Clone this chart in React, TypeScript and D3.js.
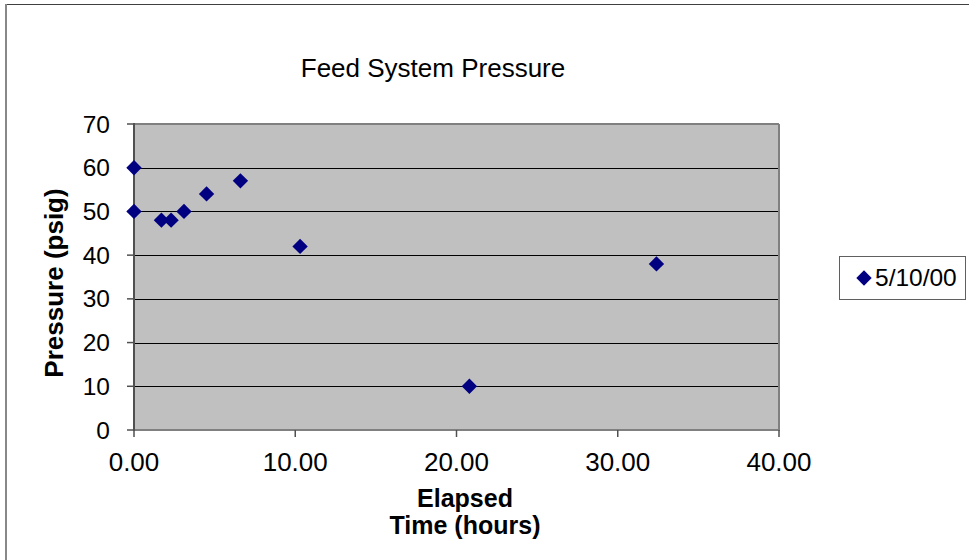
import React from "react";
import * as d3 from "d3";

const chartTitle = "Feed System Pressure";
const seriesName = "5/10/00";
const elapsedHours = [0, 0, 1.7, 2.3, 3.1, 4.5, 6.6, 10.3, 20.8, 32.4];
const pressurePsig = [60, 50, 48, 48, 50, 54, 57, 42, 10, 38];
const xTicks = [0, 10, 20, 30, 40];
const yTicks = [0, 10, 20, 30, 40, 50, 60, 70];
const xTitleLines = ["Elapsed", "Time (hours)"];
const yTitle = "Pressure (psig)";

const W = 969;
const H = 560;
const plot = { left: 134, right: 779, top: 124, bottom: 430 };
const FONT = "'Liberation Sans', Arial, sans-serif";

export default function App() {
  const x = d3.scaleLinear().domain([0, 40]).range([plot.left, plot.right]);
  const y = d3.scaleLinear().domain([0, 70]).range([plot.bottom, plot.top]);
  const diamond = d3.symbol().type(d3.symbolSquare).size(118)() as string;
  const pts = elapsedHours.map((h, i) => ({ h, p: pressurePsig[i] }));

  return (
    <svg
      width={W}
      height={H}
      style={{ position: "absolute", top: 0, left: 0, background: "#fff" }}
      fontFamily={FONT}
    >
      {/* outer chart border */}
      <line x1={5} x2={W} y1={4.5} y2={4.5} stroke="#404040" strokeWidth={1.2} />
      <line x1={6} x2={6} y1={4} y2={H} stroke="#888" strokeWidth={2} />

      {/* title */}
      <text x={433} y={77} fontSize={26} textAnchor="middle" fill="#000">
        {chartTitle}
      </text>

      {/* plot area */}
      <rect
        x={plot.left}
        y={plot.top}
        width={plot.right - plot.left}
        height={plot.bottom - plot.top}
        fill="#C0C0C0"
      />
      {yTicks
        .filter((t) => t > 0 && t < 70)
        .map((t) => (
          <line
            key={"g" + t}
            x1={plot.left}
            x2={plot.right}
            y1={Math.round(y(t)) + 0.5}
            y2={Math.round(y(t)) + 0.5}
            stroke="#000"
            strokeWidth={1}
          />
        ))}
      {/* plot border top/right */}
      <line x1={plot.left} x2={plot.right} y1={plot.top} y2={plot.top} stroke="#808080" strokeWidth={2} />
      <line x1={plot.right} x2={plot.right} y1={plot.top} y2={plot.bottom} stroke="#808080" strokeWidth={2} />

      {/* axes */}
      <line x1={plot.left} x2={plot.right + 1} y1={plot.bottom} y2={plot.bottom} stroke="#808080" strokeWidth={2} />
      <line x1={plot.left} x2={plot.left} y1={plot.top - 1} y2={plot.bottom + 1} stroke="#505050" strokeWidth={2} />

      {/* y ticks */}
      {yTicks.map((t) => (
        <g key={"yt" + t}>
          <line x1={plot.left - 7} x2={plot.left} y1={y(t)} y2={y(t)} stroke="#505050" strokeWidth={1.5} />
          <text x={110} y={y(t) + 8.5} fontSize={24.5} textAnchor="end" fill="#000">
            {t}
          </text>
        </g>
      ))}

      {/* x ticks */}
      {xTicks.map((t) => (
        <g key={"xt" + t}>
          <line x1={x(t)} x2={x(t)} y1={plot.bottom} y2={plot.bottom + 7} stroke="#505050" strokeWidth={1.5} />
          <text x={x(t)} y={471} fontSize={26} textAnchor="middle" fill="#000">
            {d3.format(".2f")(t)}
          </text>
        </g>
      ))}

      {/* axis titles */}
      {xTitleLines.map((s, i) => (
        <text
          key={s}
          x={465}
          y={506.5 + i * 27.5}
          fontSize={25}
          fontWeight="bold"
          textAnchor="middle"
          fill="#000"
        >
          {s}
        </text>
      ))}
      <text
        transform={`translate(63,283) rotate(-90)`}
        fontSize={26}
        fontWeight="bold"
        textAnchor="middle"
        fill="#000"
      >
        {yTitle}
      </text>

      {/* points */}
      {pts.map((d, i) => (
        <path
          key={"p" + i}
          d={diamond}
          transform={`translate(${x(d.h)},${y(d.p)}) rotate(45)`}
          fill="#000080"
        />
      ))}

      {/* legend */}
      <rect x={839.5} y={256.5} width={126} height={43} fill="#fff" stroke="#606060" strokeWidth={1} />
      <path d={diamond} transform="translate(864,278) rotate(45)" fill="#000080" />
      <text x={875} y={286} fontSize={24.5} fill="#000">
        {seriesName}
      </text>
    </svg>
  );
}
